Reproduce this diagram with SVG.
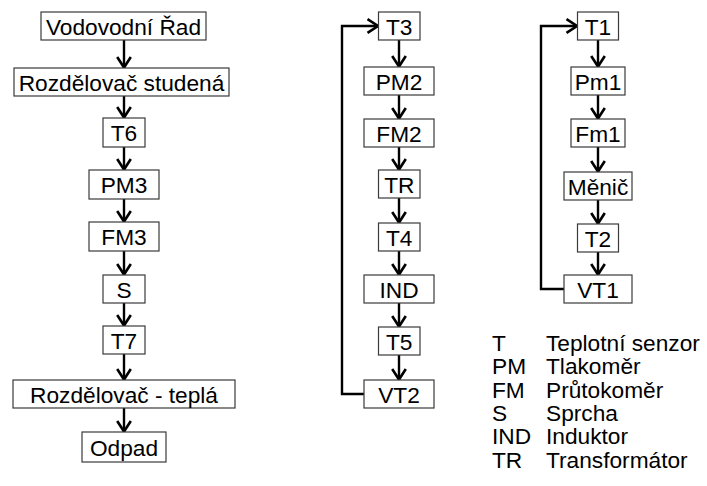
<svg xmlns="http://www.w3.org/2000/svg" width="707" height="486" viewBox="0 0 707 486">
<defs>
<style>
.box rect{fill:#fff;stroke:#3a3a3a;stroke-width:1.2}
.box text,.legend text{font-family:"Liberation Sans",Arial,sans-serif;font-size:22.7px;fill:#000;text-anchor:middle}
.legend text{text-anchor:start}
.conn path{fill:none;stroke:#000;stroke-width:2.4}
</style>
<marker id="ah" markerUnits="userSpaceOnUse" markerWidth="16" markerHeight="18" viewBox="-13 -9 16 18" refX="0.5" refY="0" orient="auto" overflow="visible">
<path d="M-10.5,-6.8 L0,0 L-10.5,6.8" fill="none" stroke="#000" stroke-width="2.6" stroke-linejoin="miter"/>
</marker>
</defs>
<rect width="707" height="486" fill="#fff"/>

<g id="connectors" class="conn">
<path d="M124,40 V68" marker-end="url(#ah)"/>
<path d="M124,96 V118" marker-end="url(#ah)"/>
<path d="M124,147 V170" marker-end="url(#ah)"/>
<path d="M124,199 V222" marker-end="url(#ah)"/>
<path d="M124,251 V275" marker-end="url(#ah)"/>
<path d="M124,303 V326" marker-end="url(#ah)"/>
<path d="M124,354 V380" marker-end="url(#ah)"/>
<path d="M124,408 V432" marker-end="url(#ah)"/>

<path d="M399,40 V67" marker-end="url(#ah)"/>
<path d="M399,95 V119" marker-end="url(#ah)"/>
<path d="M399,147 V170" marker-end="url(#ah)"/>
<path d="M399,198 V223" marker-end="url(#ah)"/>
<path d="M399,251 V275" marker-end="url(#ah)"/>
<path d="M399,303 V327" marker-end="url(#ah)"/>
<path d="M399,355 V380" marker-end="url(#ah)"/>
<path d="M364,394 H342 V26 H378.5" marker-end="url(#ah)"/>

<path d="M598,40 V67" marker-end="url(#ah)"/>
<path d="M598,95 V119" marker-end="url(#ah)"/>
<path d="M598,147 V172" marker-end="url(#ah)"/>
<path d="M598,200 V224" marker-end="url(#ah)"/>
<path d="M598,252 V275" marker-end="url(#ah)"/>
<path d="M564,289 H541 V26 H577.5" marker-end="url(#ah)"/>
</g>

<g id="vodovodni-rad" class="box"><rect x="41" y="12" width="165" height="28"/><text x="123.5" y="35">Vodovodní Řad</text></g>
<g id="rozdelovac-studena" class="box"><rect x="14" y="68" width="215" height="28"/><text x="121.5" y="91">Rozdělovač studená</text></g>
<g id="t6" class="box"><rect x="103" y="118" width="42" height="29"/><text x="124" y="141">T6</text></g>
<g id="pm3" class="box"><rect x="89" y="170" width="70" height="29"/><text x="124" y="193">PM3</text></g>
<g id="fm3" class="box"><rect x="89" y="222" width="70" height="29"/><text x="124" y="245">FM3</text></g>
<g id="s" class="box"><rect x="103" y="275" width="42" height="28"/><text x="124" y="298">S</text></g>
<g id="t7" class="box"><rect x="103" y="326" width="42" height="28"/><text x="124" y="349">T7</text></g>
<g id="rozdelovac-tepla" class="box"><rect x="13" y="380" width="222" height="28"/><text x="124" y="403">Rozdělovač - teplá</text></g>
<g id="odpad" class="box"><rect x="82" y="432" width="84" height="30"/><text x="124" y="456">Odpad</text></g>

<g id="t3" class="box"><rect x="378.5" y="12" width="41.5" height="28"/><text x="399.25" y="35">T3</text></g>
<g id="pm2" class="box"><rect x="364" y="67" width="70" height="28"/><text x="399" y="90">PM2</text></g>
<g id="fm2" class="box"><rect x="364" y="119" width="70" height="28"/><text x="399" y="142">FM2</text></g>
<g id="tr" class="box"><rect x="378.5" y="170" width="41.5" height="28"/><text x="399.25" y="193">TR</text></g>
<g id="t4" class="box"><rect x="378.5" y="223" width="41.5" height="28"/><text x="399.25" y="246">T4</text></g>
<g id="ind" class="box"><rect x="364" y="275" width="70" height="28"/><text x="399" y="298">IND</text></g>
<g id="t5" class="box"><rect x="378.5" y="327" width="41.5" height="28"/><text x="399.25" y="350">T5</text></g>
<g id="vt2" class="box"><rect x="364" y="380" width="70" height="28"/><text x="399" y="403">VT2</text></g>

<g id="t1" class="box"><rect x="577.5" y="12" width="41" height="28"/><text x="598" y="35">T1</text></g>
<g id="pm1" class="box"><rect x="571" y="67" width="54" height="28"/><text x="598" y="90">Pm1</text></g>
<g id="fm1" class="box"><rect x="571" y="119" width="54" height="28"/><text x="598" y="142">Fm1</text></g>
<g id="menic" class="box"><rect x="564" y="172" width="68" height="28"/><text x="598" y="195">Měnič</text></g>
<g id="t2" class="box"><rect x="577.5" y="224" width="41" height="28"/><text x="598" y="247">T2</text></g>
<g id="vt1" class="box"><rect x="564" y="275" width="68" height="28"/><text x="598" y="298">VT1</text></g>

<g id="legend" class="legend">
<text x="492" y="351">T</text><text x="546" y="351">Teplotní senzor</text>
<text x="492" y="374.3">PM</text><text x="546" y="374.3">Tlakoměr</text>
<text x="492" y="397.6">FM</text><text x="546" y="397.6">Průtokoměr</text>
<text x="492" y="420.9">S</text><text x="546" y="420.9">Sprcha</text>
<text x="492" y="444.2">IND</text><text x="546" y="444.2">Induktor</text>
<text x="492" y="467.5">TR</text><text x="546" y="467.5">Transformátor</text>
</g>
</svg>
